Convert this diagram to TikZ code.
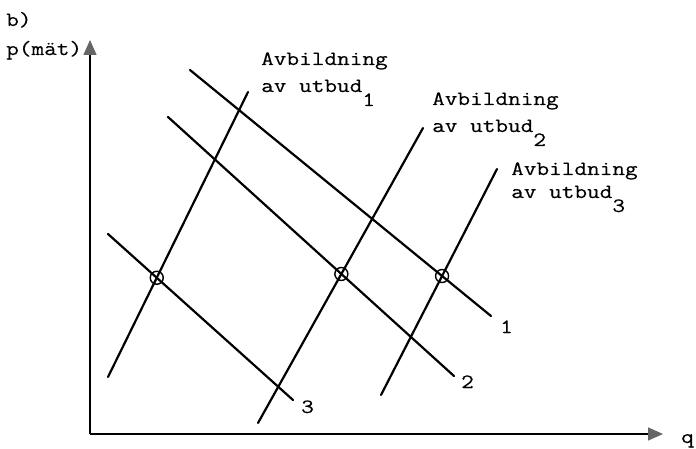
\documentclass[tikz,border=0pt]{standalone}
\usepackage{fontspec}
\newfontfamily\tw{Latin Modern Mono}[FakeStretch=1.21,FakeBold=0.3]
\usetikzlibrary{arrows.meta,intersections}
\definecolor{axgray}{gray}{0.4}
\begin{document}
\begin{tikzpicture}[x=1pt,y=-1pt,
  lbl/.style={font=\tw\fontsize{20.3}{26}\selectfont, inner sep=0pt, anchor=base west},
  curve/.style={line width=2.2pt, line cap=round},
  axis/.style={line width=1.5pt, -{Triangle[length=15pt,width=13pt,fill=axgray,color=axgray]}},
  eq/.style={circle, draw, line width=1.4pt, minimum size=13pt, inner sep=0pt}]
\useasboundingbox (0,0) rectangle (696,449);
% axes
\coordinate (O) at (90,434);
\coordinate (ytip) at (90,40);
\coordinate (xtip) at (663,434);
\draw[axis] (O) -- (ytip);
\draw[axis] (O) -- (xtip);
% demand lines
\coordinate (d1a) at (190,70);  \coordinate (d1b) at (491,316);
\coordinate (d2a) at (168,117); \coordinate (d2b) at (454,376);
\coordinate (d3a) at (108,234); \coordinate (d3b) at (293,400);
% supply lines
\coordinate (s1a) at (108,377); \coordinate (s1b) at (248,92);
\coordinate (s2a) at (258,423); \coordinate (s2b) at (423,128);
\coordinate (s3a) at (381,395); \coordinate (s3b) at (497,169);
\draw[curve, name path=d1] (d1a) -- (d1b);
\draw[curve, name path=d2] (d2a) -- (d2b);
\draw[curve, name path=d3] (d3a) -- (d3b);
\draw[curve, name path=s1] (s1a) -- (s1b);
\draw[curve, name path=s2] (s2a) -- (s2b);
\draw[curve, name path=s3] (s3a) -- (s3b);
% equilibria
\path[name intersections={of=d3 and s1, by=e1}];
\path[name intersections={of=d2 and s2, by=e2}];
\path[name intersections={of=d1 and s3, by=e3}];
\node[eq] (E1) at (e1) {};
\node[eq] (E2) at (e2) {};
\node[eq] (E3) at (e3) {};
% labels
\node[lbl] (b) at (6,26) {b)};
\node[lbl] (p) at (6,55) {p(mät)};
\node[lbl] (q) at (681,443) {q};
\node[lbl] (n1) at (500,333) {1};
\node[lbl] (n2) at (461,388) {2};
\node[lbl] (n3) at (301,413) {3};
\node[lbl] (a1) at (261,65) {Avbildning};
\node[lbl] (u1) at (261,92) {av utbud\raisebox{-14pt}{1}};
\node[lbl] (a2) at (432,105) {Avbildning};
\node[lbl] (u2) at (432,132) {av utbud\raisebox{-14pt}{2}};
\node[lbl] (a3) at (511,175) {Avbildning};
\node[lbl] (u3) at (511,198) {av utbud\raisebox{-14pt}{3}};
\end{tikzpicture}
\end{document}
